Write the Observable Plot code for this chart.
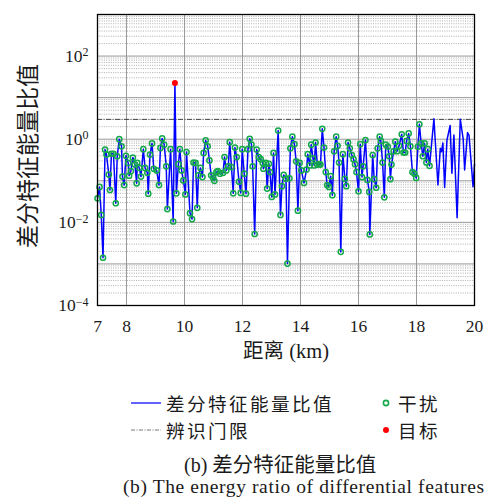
<!DOCTYPE html>
<html><head><meta charset="utf-8">
<script src="https://cdn.jsdelivr.net/npm/d3@7"></script>
<script src="https://cdn.jsdelivr.net/npm/@observablehq/plot@0.6"></script>
<style>
body{margin:0;background:#fff;width:488px;height:501px;position:relative;overflow:hidden;}
#chart{position:absolute;left:0;top:0;}
.t{position:absolute;white-space:nowrap;line-height:22px;height:22px;color:#1a1a1a;font-family:"Liberation Serif","Noto Sans CJK SC",serif;}
.cjk{font-family:"Noto Sans CJK SC",sans-serif;font-size:20.5px;}
.lg{font-size:18.6px;letter-spacing:2.4px;}
</style></head><body>
<div id="chart"></div>
<svg style="position:absolute;left:0;top:0" width="488" height="501">
  <line x1="131" x2="161" y1="403" y2="403" stroke="#3a3aff" stroke-width="1.6"/>
  <line x1="131" x2="161" y1="430" y2="430" stroke="#555" stroke-width="0.8" stroke-dasharray="4,1.5,1,1.5"/>
  <circle cx="386" cy="403" r="2.6" fill="none" stroke="#14a84a" stroke-width="1.6"/>
  <circle cx="386" cy="430" r="3" fill="#ff0000"/>
</svg>
<div class="t cjk lg" style="left:166px;top:392px">差分特征能量比值</div>
<div class="t cjk lg" style="left:398px;top:392px">干扰</div>
<div class="t cjk lg" style="left:166px;top:419px">辨识门限</div>
<div class="t cjk lg" style="left:398px;top:419px">目标</div>
<div class="t" style="left:184px;top:452px;font-size:20px">(b) <span class="cjk">差分特征能量比值</span></div>
<div class="t" style="left:123px;top:476px;font-size:19.5px;letter-spacing:0.6px">(b) The energy ratio of differential features</div>
<script>
// Interference points (green markers)
const interferenceKm = [7.00,7.07,7.13,7.19,7.26,7.31,7.39,7.43,7.48,7.55,7.63,7.68,7.75,7.83,7.86,7.92,7.98,8.06,8.09,8.15,
8.22,8.29,8.35,8.37,8.44,8.50,8.58,8.64,8.72,8.75,8.81,8.88,8.94,9.04,9.12,9.17,9.23,9.30,9.37,9.41,
9.52,9.61,9.72,9.79,9.84,9.90,9.96,10.03,10.07,10.19,10.26,10.31,10.38,10.44,10.48,10.55,10.62,10.66,10.73,10.80,
10.86,10.92,10.99,11.03,11.10,11.15,11.22,11.33,11.38,11.44,11.51,11.56,11.62,11.68,11.74,11.80,11.88,11.94,11.99,12.06,
12.12,12.19,12.25,12.31,12.35,12.42,12.49,12.56,12.63,12.70,12.72,12.81,12.85,12.91,12.95,13.01,13.07,13.12,13.23,13.31,
13.36,13.42,13.50,13.55,13.62,13.65,13.72,13.79,13.85,13.91,13.97,14.03,14.12,14.21,14.25,14.32,14.37,14.43,14.47,14.52,
14.58,14.64,14.69,14.75,14.81,14.87,14.92,14.98,15.04,15.10,15.16,15.23,15.28,15.33,15.39,15.46,15.53,15.58,15.64,15.70,
15.77,15.83,15.88,15.93,16.00,16.06,16.12,16.16,16.24,16.31,16.37,16.39,16.49,16.54,16.61,16.66,16.73,16.77,16.83,16.89,
16.94,17.01,17.06,17.10,17.14,17.21,17.27,17.33,17.40,17.49,17.55,17.61,17.66,17.73,17.79,17.86,17.93,17.99,18.05,18.10,
18.16,18.22,18.28,18.34,18.39,18.45];
const interferenceRatio = [0.038,0.071,0.0151,0.00141,0.562,0.427,0.141,0.060,0.447,0.447,0.0288,0.389,1.0,0.676,0.126,0.079,0.398,0.269,0.132,0.170,
0.363,0.245,0.087,0.269,0.204,0.126,0.575,0.204,0.155,0.049,0.427,0.794,0.195,0.178,0.079,0.617,1.047,0.741,0.224,0.0209,
0.575,0.0105,0.050,0.251,0.575,0.178,0.102,0.047,0.490,0.0166,0.0120,0.275,0.269,0.0224,0.135,0.204,0.123,0.468,0.933,0.676,
0.309,0.135,0.117,0.100,0.162,0.170,0.148,0.155,0.372,0.178,0.224,0.851,0.214,0.050,0.631,0.372,0.095,0.051,0.575,0.148,
0.049,0.575,1.023,0.741,0.224,0.00525,0.562,0.372,0.331,0.269,0.195,0.269,0.065,0.257,0.162,0.041,0.468,0.047,1.62,0.0151,
0.074,0.138,0.112,0.00102,0.115,0.603,1.148,0.759,0.295,0.0191,0.269,0.178,0.089,0.186,0.437,0.234,0.741,0.347,0.234,0.832,
0.245,0.251,0.245,1.778,0.631,0.162,0.079,0.071,0.129,0.045,0.513,1.148,0.692,0.275,0.00195,0.437,0.112,0.074,0.832,0.603,
0.417,0.331,0.251,0.162,0.056,0.759,0.123,0.224,0.955,0.105,0.054,0.00513,0.417,0.110,0.068,0.603,1.148,0.912,0.275,0.040,
0.741,0.661,0.389,0.110,0.245,0.513,0.871,0.513,0.692,1.318,0.479,0.479,0.912,1.380,0.676,0.162,0.148,0.117,0.661,2.29,
0.794,0.389,0.794,0.275,0.575,0.229];
// Target point (red)
const targetKm = [9.67];
const targetRatio = [22.4];
// Tail of the curve without markers
const tailKm = [18.60,18.74,18.82,18.86,18.91,18.97,19.05,19.16,19.22,19.29,19.40,19.51,19.61,19.66,19.76,19.81,19.95,20.0];
const tailRatio = [3.09,0.079,0.603,0.501,0.813,0.069,0.955,2.14,0.151,1.259,0.0129,3.02,1.0,0.182,1.445,1.259,0.072,0.251];
// Threshold
const thresholdValue = [3];
// Axes
const xTicks = [7,8,10,12,14,16,18,20];
const xGrid = [8,10,12,14,16,18];
const yTicks = [1e-4,1e-2,1,1e2];
const yTickExponents = ["−4","−2","0","2"];
const yDecades = [1e-4,1e-3,1e-2,1e-1,1,1e1,1e2,1e3];
const minorMultipliers = [2,3,4,5,6,7,8,9];

const interference = interferenceKm.map((k,i)=>({km:k, r:interferenceRatio[i]}));
const target = targetKm.map((k,i)=>({km:k, r:targetRatio[i]}));
const tail = tailKm.map((k,i)=>({km:k, r:tailRatio[i]}));
const lineData = [...interference, ...target, ...tail].sort((a,b)=>a.km-b.km);
const yMinor = yDecades.slice(0,-1).flatMap(d => minorMultipliers.map(m => m*d));

const chart = Plot.plot({
  width: 488, height: 375,
  marginLeft: 97, marginRight: 14, marginTop: 14, marginBottom: 70,
  style: {fontFamily: "Liberation Serif, serif", fontSize: "17.5px", color: "#1a1a1a", background: "white"},
  x: {domain: [7, 20]},
  y: {type: "log", domain: [1e-4, 1e3]},
  marks: [
    Plot.ruleY(yMinor, {stroke: "#9a9a9a", strokeWidth: 0.8, strokeDasharray: "1,1.3"}),
    Plot.ruleY(yDecades, {stroke: "#8c8c8c", strokeWidth: 0.9}),
    Plot.ruleX(xGrid, {stroke: "#9a9a9a", strokeWidth: 1}),
    Plot.ruleY(thresholdValue, {stroke: "#333", strokeWidth: 0.9, strokeDasharray: "5,1.5,1,1.5"}),
    Plot.line(lineData, {x: "km", y: "r", stroke: "#0000ff", strokeWidth: 1.5}),
    Plot.dot(interference, {x: "km", y: "r", r: 2.6, stroke: "#14a84a", strokeWidth: 1.5, fill: "none"}),
    Plot.dot(target, {x: "km", y: "r", r: 3, fill: "#ff0000", stroke: "none"}),
    Plot.frame({stroke: "black", strokeWidth: 1.3}),
    Plot.axisX({ticks: xTicks, tickSize: 0, tickPadding: 14, label: null, tickFormat: d => String(d)}),
    Plot.axisY({ticks: yTicks, tickSize: 0, tickPadding: 9, label: null,
      tickFormat: d => "10" + yTickExponents[yTicks.indexOf(d)]}),
    Plot.text(["距离 (km)"], {frameAnchor: "bottom", dy: 52, fontSize: 20.5, fill: "#1a1a1a",
      fontFamily: "Liberation Serif, Noto Sans CJK SC"}),
    Plot.text(["差分特征能量比值"], {frameAnchor: "left", dx: -69, dy: -4, rotate: -90, textAnchor: "middle",
      fontSize: 23, fill: "#1a1a1a", fontFamily: "Noto Sans CJK SC"})
  ]
});
document.getElementById("chart").appendChild(chart);
// superscript exponents on y tick labels
d3.select(chart).selectAll('g[aria-label="y-axis tick label"] text').each(function(){
  const s = this.textContent;
  const exp = s.slice(2);
  const el = d3.select(this);
  el.text("10");
  el.append("tspan").attr("dy", "-0.45em").attr("font-size", "12px").text(exp);
});
</script>
</body></html>
